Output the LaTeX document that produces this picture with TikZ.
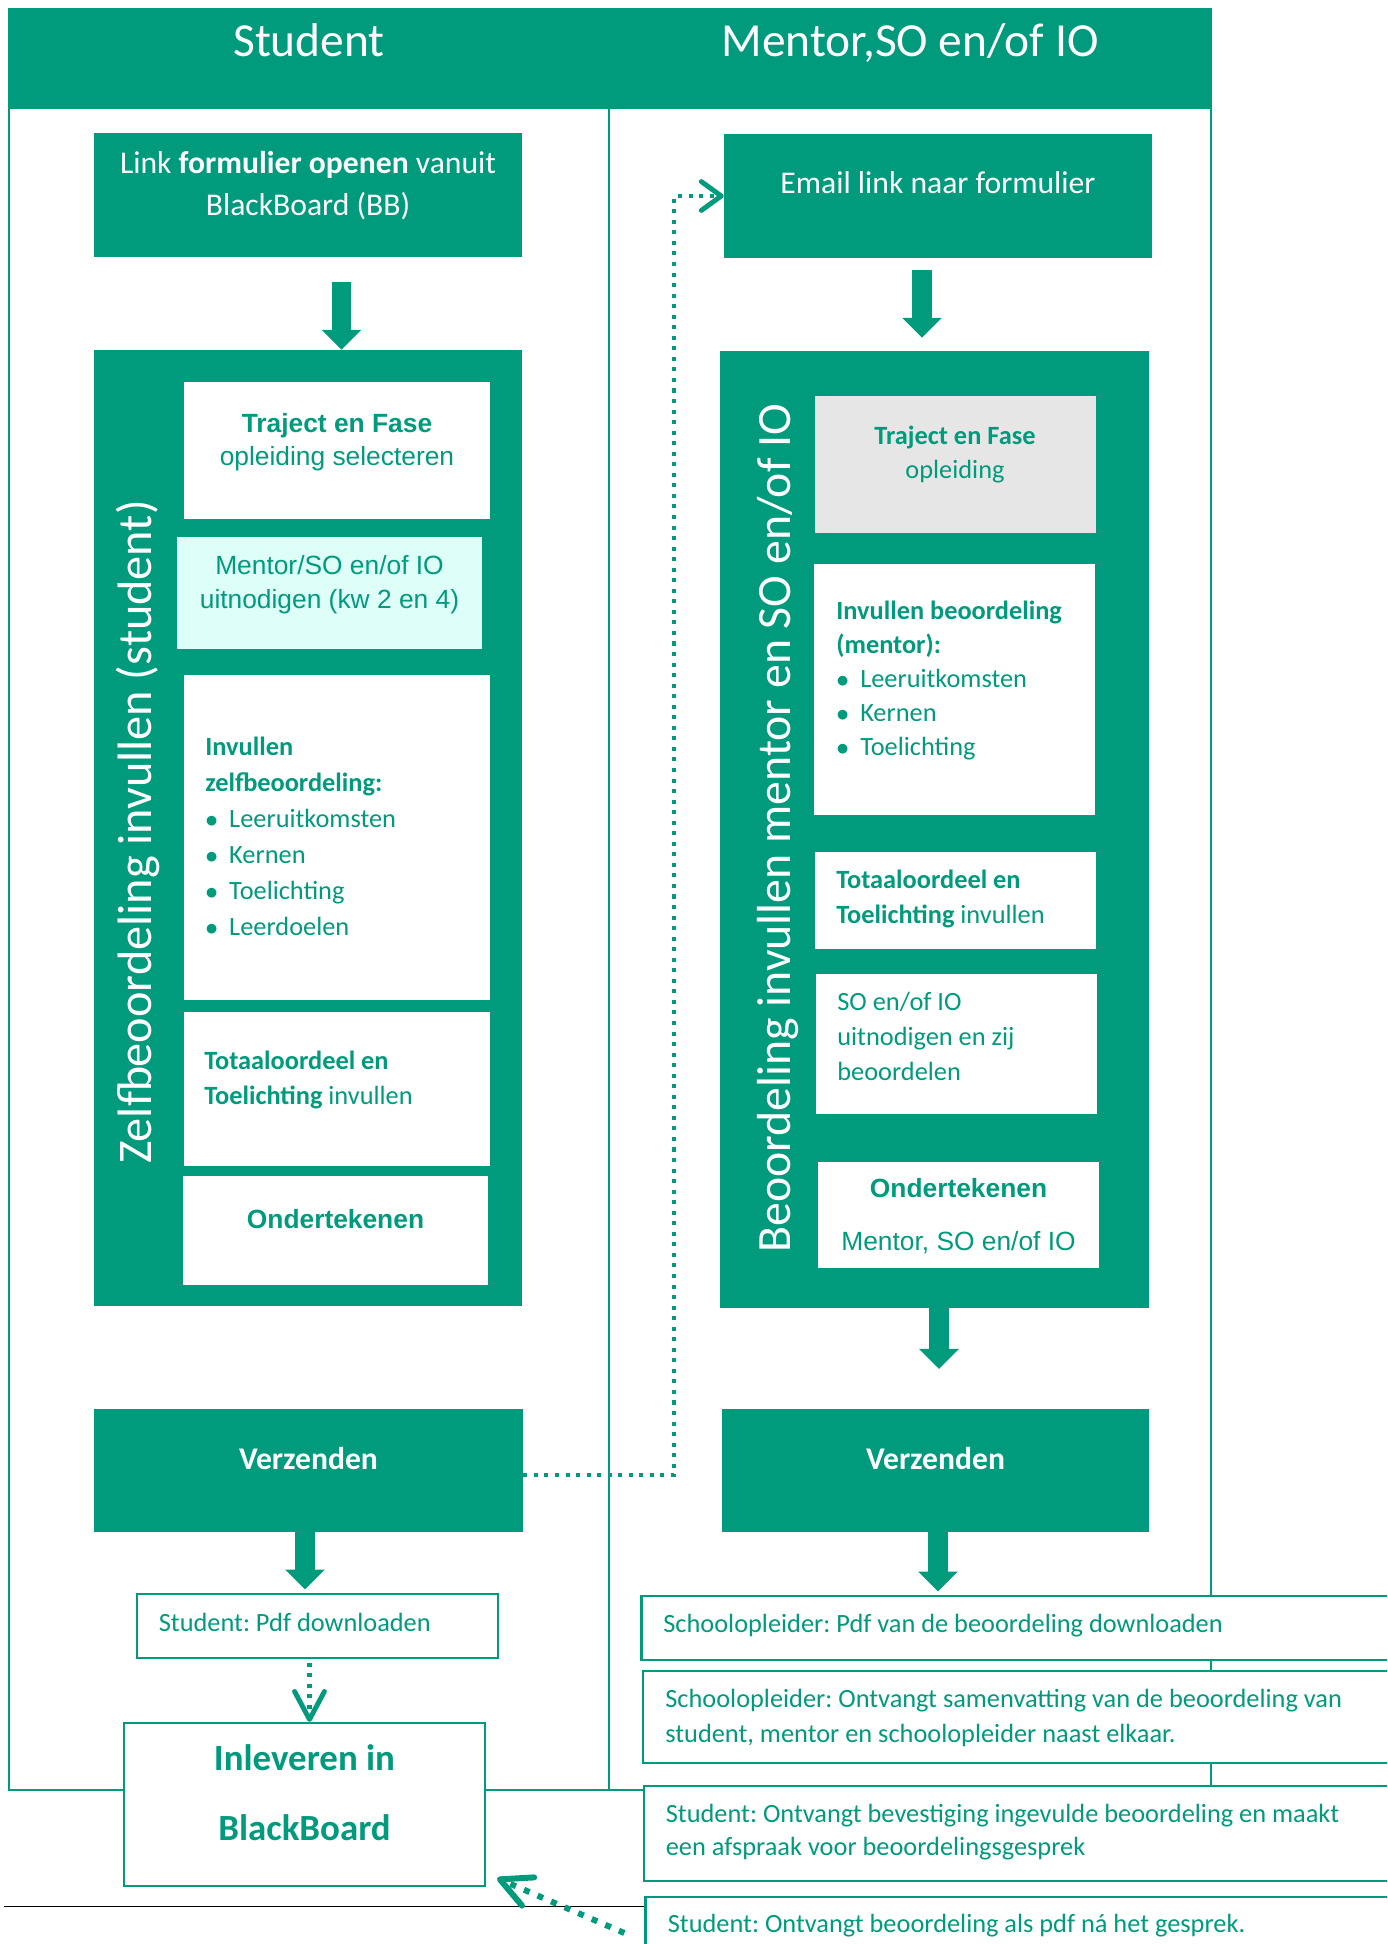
\documentclass[tikz,border=0pt]{standalone}
\usepackage{fontspec}
\setmainfont{Carlito}
\newfontfamily\arialfont{Liberation Sans}
\usetikzlibrary{arrows.meta,fit,calc}
\frenchspacing
\definecolor{tgreen}{HTML}{009B7D}
\definecolor{tcyan}{HTML}{DDFFF8}
\definecolor{tgray}{HTML}{E6E6E6}
\newcommand{\blt}{\makebox[13.6pt][l]{$\bullet$}}
\tikzset{
  lane/.style={draw=tgreen, line width=0.8pt},
  greenbox/.style={fill=tgreen, inner sep=0pt},
  whitebox/.style={fill=white, inner sep=0pt},
  linebox/.style={draw=tgreen, fill=white, line width=1.3pt, inner sep=0pt},
  gtxt/.style={text=tgreen, inner sep=0pt},
  wtxt/.style={text=white, inner sep=0pt},
  blockarrow/.style={draw=tgreen, line width=11.3pt, -{Triangle[length=11.3pt, width=22.7pt, line width=0pt]}},
  dotline/.style={draw=tgreen, line width=2.3pt, dash pattern=on 2.3pt off 3.7pt},
  dotbig/.style={draw=tgreen, line width=3.4pt, dash pattern=on 3.4pt off 5pt},
}
\begin{document}
\begin{tikzpicture}[x=0.02cm, y=-0.02cm]
        \useasboundingbox (0,0) rectangle (1387,1944);
        \clip (0,0) rectangle (1387,1944);
        % lanes
        \fill [tgreen] (9,9) rectangle (1211,109);
        \draw [lane] (9,9) rectangle (1211,1790);
        \draw [lane] (609,109) -- (609,1790);
        \node [wtxt, anchor=base, font=\fontsize{27}{32}\selectfont] (hstud) at (309,56) {Student};
        \node [wtxt, anchor=base, font=\fontsize{27}{32}\selectfont] (hment) at (910,56) {Mentor,SO en/of IO};
        \draw [black, line width=1.1pt] (4,1906.5) -- (700,1906.5);
        % student
        \node [greenbox, fit={(94,133) (522,257)}] (link) {};
        \node [wtxt, anchor=base, align=center, font=\fontsize{18}{23.8}\selectfont] (linktxt) at (308,215) {Link \textbf{formulier openen} vanuit\\BlackBoard (BB)};
        \node [greenbox, fit={(94,350) (522,1306)}] (zelf) {};
        \node [wtxt, rotate=90, anchor=base, font=\fontsize{27.5}{32}\selectfont] (zelftxt) at (151,832) {Zelfbeoordeling invullen (student)};
        \node [whitebox, fit={(184,382) (490,518.7)}] (traj1) {};
        \node [gtxt, anchor=base, align=center, font=\arialfont\fontsize{15}{18.7}\selectfont] (traj1txt) at (337,465) {\textbf{Traject en Fase}\\opleiding selecteren};
        \node [whitebox, fill=tcyan, fit={(177,537) (482,649)}] (invite) {};
        \node [gtxt, anchor=base, align=center, font=\arialfont\fontsize{15}{19.3}\selectfont] (invitetxt) at (329.5,608) {Mentor/SO en/of IO\\uitnodigen (kw 2 en 4)};
        \node [whitebox, fit={(184,675) (490,1000)}] (zelfb) {};
        \node [gtxt, anchor=base west, align=left, font=\fontsize{15}{20.4}\selectfont] (zelfbtxt) at (205,935) {\textbf{Invullen}\\\textbf{zelfbeoordeling:}\\\blt Leeruitkomsten\\\blt Kernen\\\blt Toelichting\\\blt Leerdoelen};
        \node [whitebox, fit={(184,1012) (490,1166)}] (tot1) {};
        \node [gtxt, anchor=base west, align=left, font=\fontsize{15}{19.8}\selectfont] (tot1txt) at (204,1104) {\textbf{Totaaloordeel en}\\\textbf{Toelichting} invullen};
        \node [whitebox, fit={(183,1176) (488,1285)}] (ond1) {};
        \node [gtxt, anchor=base, font=\arialfont\bfseries\fontsize{15}{18}\selectfont] (ond1txt) at (335.5,1228) {Ondertekenen};
        \node [greenbox, fit={(94,1409) (523,1532)}] (verz1) {};
        \node [wtxt, anchor=base, font=\bfseries\fontsize{18}{22}\selectfont] (verz1txt) at (308.5,1469) {Verzenden};
        \node [linebox, fit={(137,1594) (498,1658)}] (pdf1) {};
        \node [gtxt, anchor=base west, font=\fontsize{15}{19}\selectfont] (pdf1txt) at (158.5,1631) {Student: Pdf downloaden};
        \node [linebox, fit={(124,1723) (485,1886)}] (inlev) {};
        \node [gtxt, anchor=base, align=center, font=\bfseries\fontsize{21}{39.7}\selectfont] (inlevtxt) at (304.5,1840) {Inleveren in\\BlackBoard};
        % mentor
        \node [greenbox, fit={(724,134) (1152,258)}] (email) {};
        \node [wtxt, anchor=base, font=\fontsize{18}{23}\selectfont] (emailtxt) at (938,193) {Email link naar formulier};
        \node [greenbox, fit={(720,351) (1149,1307.5)}] (beoord) {};
        \node [wtxt, rotate=90, anchor=base, font=\fontsize{27.2}{32}\selectfont] (beoordtxt) at (790,828) {Beoordeling invullen mentor en SO en/of IO};
        \node [whitebox, fill=tgray, fit={(815,396) (1096,532.5)}] (traj2) {};
        \node [gtxt, anchor=base, align=center, font=\fontsize{15}{19.6}\selectfont] (traj2txt) at (955,478.5) {\textbf{Traject en Fase}\\opleiding};
        \node [whitebox, fit={(814,564) (1095,814.6)}] (invul2) {};
        \node [gtxt, anchor=base west, align=left, font=\fontsize{15}{19.3}\selectfont] (invul2txt) at (836,755) {\textbf{Invullen beoordeling}\\\textbf{(mentor):}\\\blt Leeruitkomsten\\\blt Kernen\\\blt Toelichting};
        \node [whitebox, fit={(815,852) (1096,949)}] (tot2) {};
        \node [gtxt, anchor=base west, align=left, font=\fontsize{15}{20.2}\selectfont] (tot2txt) at (836,923.6) {\textbf{Totaaloordeel en}\\\textbf{Toelichting} invullen};
        \node [whitebox, fit={(816,974) (1097,1114)}] (so) {};
        \node [gtxt, anchor=base west, align=left, font=\fontsize{15}{19.8}\selectfont] (sotxt) at (837,1080) {SO en/of IO\\uitnodigen en zij\\beoordelen};
        \node [whitebox, fit={(818,1162) (1099,1268)}] (ond2) {};
        \node [gtxt, anchor=base, align=center, font=\arialfont\fontsize{15}{30}\selectfont] (ond2txt) at (958.5,1250) {\textbf{Ondertekenen}\\Mentor, SO en/of IO};
        \node [greenbox, fit={(722,1409) (1149,1532)}] (verz2) {};
        \node [wtxt, anchor=base, font=\bfseries\fontsize{18}{22}\selectfont] (verz2txt) at (935.5,1469) {Verzenden};
        \node [linebox, fit={(641.5,1596) (1420,1660)}] (sp1) {};
        \node [gtxt, anchor=base west, font=\fontsize{15}{19}\selectfont] (sp1txt) at (663,1632) {Schoolopleider: Pdf van de beoordeling downloaden};
        \node [linebox, fit={(643,1671) (1420,1763)}] (sp2) {};
        \node [gtxt, anchor=base west, align=left, font=\fontsize{15}{19.8}\selectfont] (sp2txt) at (665,1742) {Schoolopleider: Ontvangt samenvatting van de beoordeling van\\student, mentor en schoolopleider naast elkaar.};
        \node [linebox, fit={(644,1786) (1420,1881)}] (st1) {};
        \node [gtxt, anchor=base west, align=left, font=\fontsize{15}{18.7}\selectfont] (st1txt) at (665.5,1855) {Student: Ontvangt bevestiging ingevulde beoordeling en maakt\\een afspraak voor beoordelingsgesprek};
        \node [linebox, fit={(645.5,1897) (1420,1965)}] (st2) {};
        \node [gtxt, anchor=base west, font=\fontsize{15}{19}\selectfont] (st2txt) at (667.5,1932) {Student: Ontvangt beoordeling als pdf ná het gesprek.};
        % arrows
        \coordinate (a1) at (341.5,0);
        \coordinate (a2) at (922,0);
        \coordinate (a3) at (939,0);
        \coordinate (a4) at (305,0);
        \coordinate (a5) at (938,0);
        \coordinate (d1) at (309.5,0);
        \draw [blockarrow, shorten <=14.2pt] (link.south -| a1) -- (zelf.north -| a1);
        \draw [blockarrow, shorten <=6.8pt, shorten >=7.4pt] (email.south -| a2) -- (beoord.north -| a2);
        \draw [blockarrow, shorten >=22.7pt] (beoord.south -| a3) -- (verz2.north -| a3);
        \draw [blockarrow, shorten >=2pt] (verz1.south -| a4) -- (pdf1.north -| a4);
        \draw [blockarrow, shorten >=2pt] (verz2.south -| a5) -- (sp1.north -| a5);
        \draw [dotline, shorten <=2pt, -{Straight Barb[length=15.9pt, width=17pt, line width=2.8pt, round]}] (pdf1.south -| d1) -- (inlev.north -| d1);
        \draw [dotline, -{Straight Barb[length=11.3pt, width=16.4pt, line width=2.8pt, round]}] ([yshift=-2.5pt]verz1.east) -- ++(151,0) |- (email.west);
        \draw [dotbig, -{Straight Barb[length=17.5pt, width=17.5pt, line width=3.4pt, round]}] ($(st2.west)+(-20,2)$) -- ($(inlev.south east)+(11,-9)$);
    \end{tikzpicture}
\end{document}
